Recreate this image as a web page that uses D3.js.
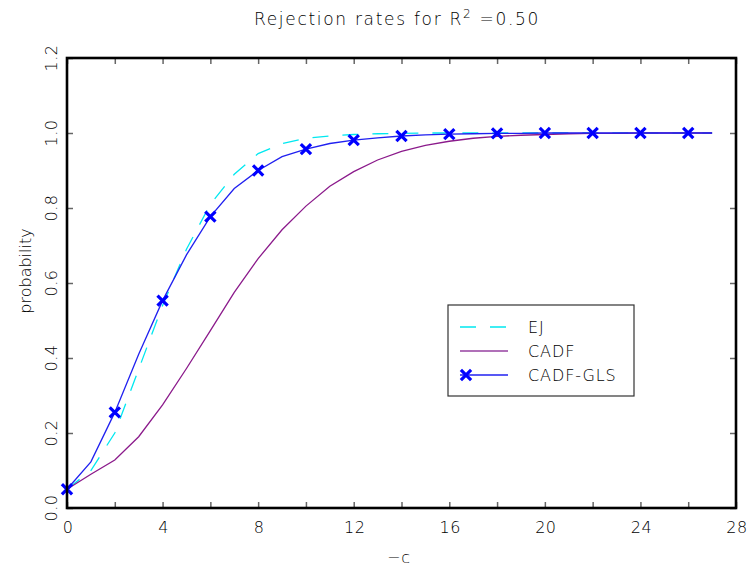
<!DOCTYPE html>
<html>
<head>
<meta charset="utf-8">
<script src="https://cdn.jsdelivr.net/npm/d3@7"></script>
<style>
  body { margin: 0; background: #fff; }
  svg text { font-family: "DejaVu Sans", sans-serif; font-weight: 200; fill: #000; }
</style>
</head>
<body>
<div id="chart"></div>
<script>
var cValues = [0, 1, 2, 3, 4, 5, 6, 7, 8, 9, 10, 11, 12, 13, 14, 15, 16, 17, 18, 19, 20, 21, 22, 23, 24, 25, 26, 27];

var ejValues = [0.05, 0.10, 0.20, 0.37, 0.54, 0.69, 0.81, 0.89, 0.945, 0.972, 0.986, 0.992, 0.996, 0.998, 0.999, 1.0, 1.0, 1.0, 1.0, 1.0, 1.0, 1.0, 1.0, 1.0, 1.0, 1.0, 1.0, 1.0];
var cadfValues = [0.05, 0.09, 0.128, 0.19, 0.275, 0.372, 0.473, 0.575, 0.665, 0.742, 0.805, 0.858, 0.897, 0.928, 0.951, 0.967, 0.978, 0.986, 0.991, 0.994, 0.996, 0.998, 0.999, 0.999, 1.0, 1.0, 1.0, 1.0];
var glsValues = [0.05, 0.123, 0.255, 0.41, 0.553, 0.675, 0.777, 0.852, 0.90, 0.937, 0.957, 0.972, 0.981, 0.987, 0.992, 0.995, 0.997, 0.998, 0.999, 0.999, 1.0, 1.0, 1.0, 1.0, 1.0, 1.0, 1.0, 1.0];

var xTicks = [0, 2, 4, 6, 8, 10, 12, 14, 16, 18, 20, 22, 24, 26, 28];
var xTickLabels = [0, 4, 8, 12, 16, 20, 24, 28];
var yTicks = [0, 0.2, 0.4, 0.6, 0.8, 1.0, 1.2];

var seriesNames = ["EJ", "CADF", "CADF-GLS"];

var width = 750, height = 574;
var margin = {top: 58, right: 14, bottom: 66, left: 67};

var svg = d3.select("#chart").append("svg")
	.attr("width", width)
	.attr("height", height);

var x = d3.scaleLinear().domain([0, 28]).range([margin.left, width - margin.right]),
		y = d3.scaleLinear().domain([0, 1.2]).range([height - margin.bottom, margin.top]);

function seriesData(values) {
	return cValues.map(function(c, i) { return {c: c, p: values[i]}; });
}

// ticks on all four sides, pointing inwards
var tickColor = "#666";
var xAxisB = d3.axisBottom(x).tickValues(xTicks).tickSizeInner(-6).tickSizeOuter(0).tickFormat("");
var xAxisT = d3.axisTop(x).tickValues(xTicks).tickSizeInner(-6).tickSizeOuter(0).tickFormat("");
var yAxisL = d3.axisLeft(y).tickValues(yTicks).tickSizeInner(-6).tickSizeOuter(0).tickFormat("");
var yAxisR = d3.axisRight(y).tickValues(yTicks).tickSizeInner(-6).tickSizeOuter(0).tickFormat("");

[[xAxisB, "translate(0," + y(0) + ")"],
 [xAxisT, "translate(0," + y(1.2) + ")"],
 [yAxisL, "translate(" + x(0) + ",0)"],
 [yAxisR, "translate(" + x(28) + ",0)"]].forEach(function(a) {
	var g = svg.append("g").attr("transform", a[1]).call(a[0]);
	g.select(".domain").remove();
	g.selectAll(".tick line").attr("stroke", tickColor).attr("stroke-width", 1.5);
});

// x tick labels
svg.append("g").selectAll("text")
	.data(xTickLabels)
	.enter().append("text")
		.attr("x", function(d) { return x(d) + 1; })
		.attr("y", y(0) + 25)
		.attr("text-anchor", "middle")
		.style("font-size", "16px")
		.style("letter-spacing", "0.5px")
		.text(function(d) { return d; });

// y tick labels, rotated
svg.append("g").selectAll("text")
	.data(yTicks)
	.enter().append("text")
		.attr("transform", function(d) {
			return "translate(57," + y(d) + ") rotate(-90)";
		})
		.attr("text-anchor", "middle")
		.style("font-size", "16px")
		.style("letter-spacing", "0.5px")
		.text(function(d) { return d3.format(".1f")(d); });

// axis titles
svg.append("text")
	.attr("x", 399)
	.attr("y", 563)
	.attr("text-anchor", "middle")
	.style("font-size", "16px")
	.style("letter-spacing", "1px")
	.text("\u2212c");

svg.append("text")
	.attr("transform", "translate(31,271) rotate(-90)")
	.attr("text-anchor", "middle")
	.style("font-size", "16px")
	.text("probability");

var title = svg.append("text")
	.attr("x", 397)
	.attr("y", 25)
	.attr("text-anchor", "middle")
	.style("font-size", "17px")
	.style("letter-spacing", "1.7px");
title.append("tspan").text("Rejection rates for R");
title.append("tspan").attr("dy", -7).style("font-size", "12px").text("2");
title.append("tspan").attr("dy", 7).text(" =0.50");

// lines
var line = d3.line()
	.x(function(d) { return x(d.c); })
	.y(function(d) { return y(d.p); });

svg.append("path")
	.datum(seriesData(ejValues))
	.attr("fill", "none")
	.attr("stroke", "#00e8f0")
	.attr("stroke-width", 1.3)
	.attr("stroke-dasharray", "16,14")
	.attr("d", line);

svg.append("path")
	.datum(seriesData(cadfValues))
	.attr("fill", "none")
	.attr("stroke", "#8b1a8b")
	.attr("stroke-width", 1.3)
	.attr("d", line);

svg.append("path")
	.datum(seriesData(glsValues))
	.attr("fill", "none")
	.attr("stroke", "#2020f0")
	.attr("stroke-width", 1.3)
	.attr("d", line);

// X markers on even points of CADF-GLS
var cross = d3.symbol().type(d3.symbolX).size(70);
svg.append("g").selectAll("path")
	.data(seriesData(glsValues).filter(function(d) { return d.c % 2 === 0; }))
	.enter().append("path")
		.attr("transform", function(d) { return "translate(" + x(d.c) + "," + y(d.p) + ")"; })
		.attr("d", cross)
		.attr("fill", "none")
		.attr("stroke", "#0000ff")
		.attr("stroke-width", 3.2);

// frame
svg.append("rect")
	.attr("x", x(0))
	.attr("y", y(1.2))
	.attr("width", x(28) - x(0))
	.attr("height", y(0) - y(1.2))
	.attr("fill", "none")
	.attr("stroke", "#000")
	.attr("stroke-width", 2.6);

// legend
var legend = svg.append("g").attr("transform", "translate(448,305)");
legend.append("rect")
	.attr("width", 186)
	.attr("height", 91)
	.attr("fill", "#fff")
	.attr("stroke", "#333")
	.attr("stroke-width", 1.2);

var legendStyles = [
	{stroke: "#00e8f0", dash: "16,14", marker: false},
	{stroke: "#b070b8", dash: null, marker: false},
	{stroke: "#2020f0", dash: null, marker: true}
];

seriesNames.forEach(function(name, i) {
	var ly = 22 + i * 24;
	var s = legendStyles[i];
	legend.append("line")
		.attr("x1", 12).attr("x2", 60)
		.attr("y1", ly).attr("y2", ly)
		.attr("stroke", s.stroke)
		.attr("stroke-width", i === 1 ? 2 : 1.3)
		.attr("stroke-dasharray", s.dash);
	if(s.marker) {
		legend.append("path")
			.attr("transform", "translate(18," + ly + ")")
			.attr("d", cross)
			.attr("fill", "none")
			.attr("stroke", "#0000ff")
			.attr("stroke-width", 3.2);
	}
	legend.append("text")
		.attr("x", 80)
		.attr("y", ly + 6)
		.style("font-size", "16px")
		.style("letter-spacing", "0.9px")
		.text(name);
});
</script>
</body>
</html>
